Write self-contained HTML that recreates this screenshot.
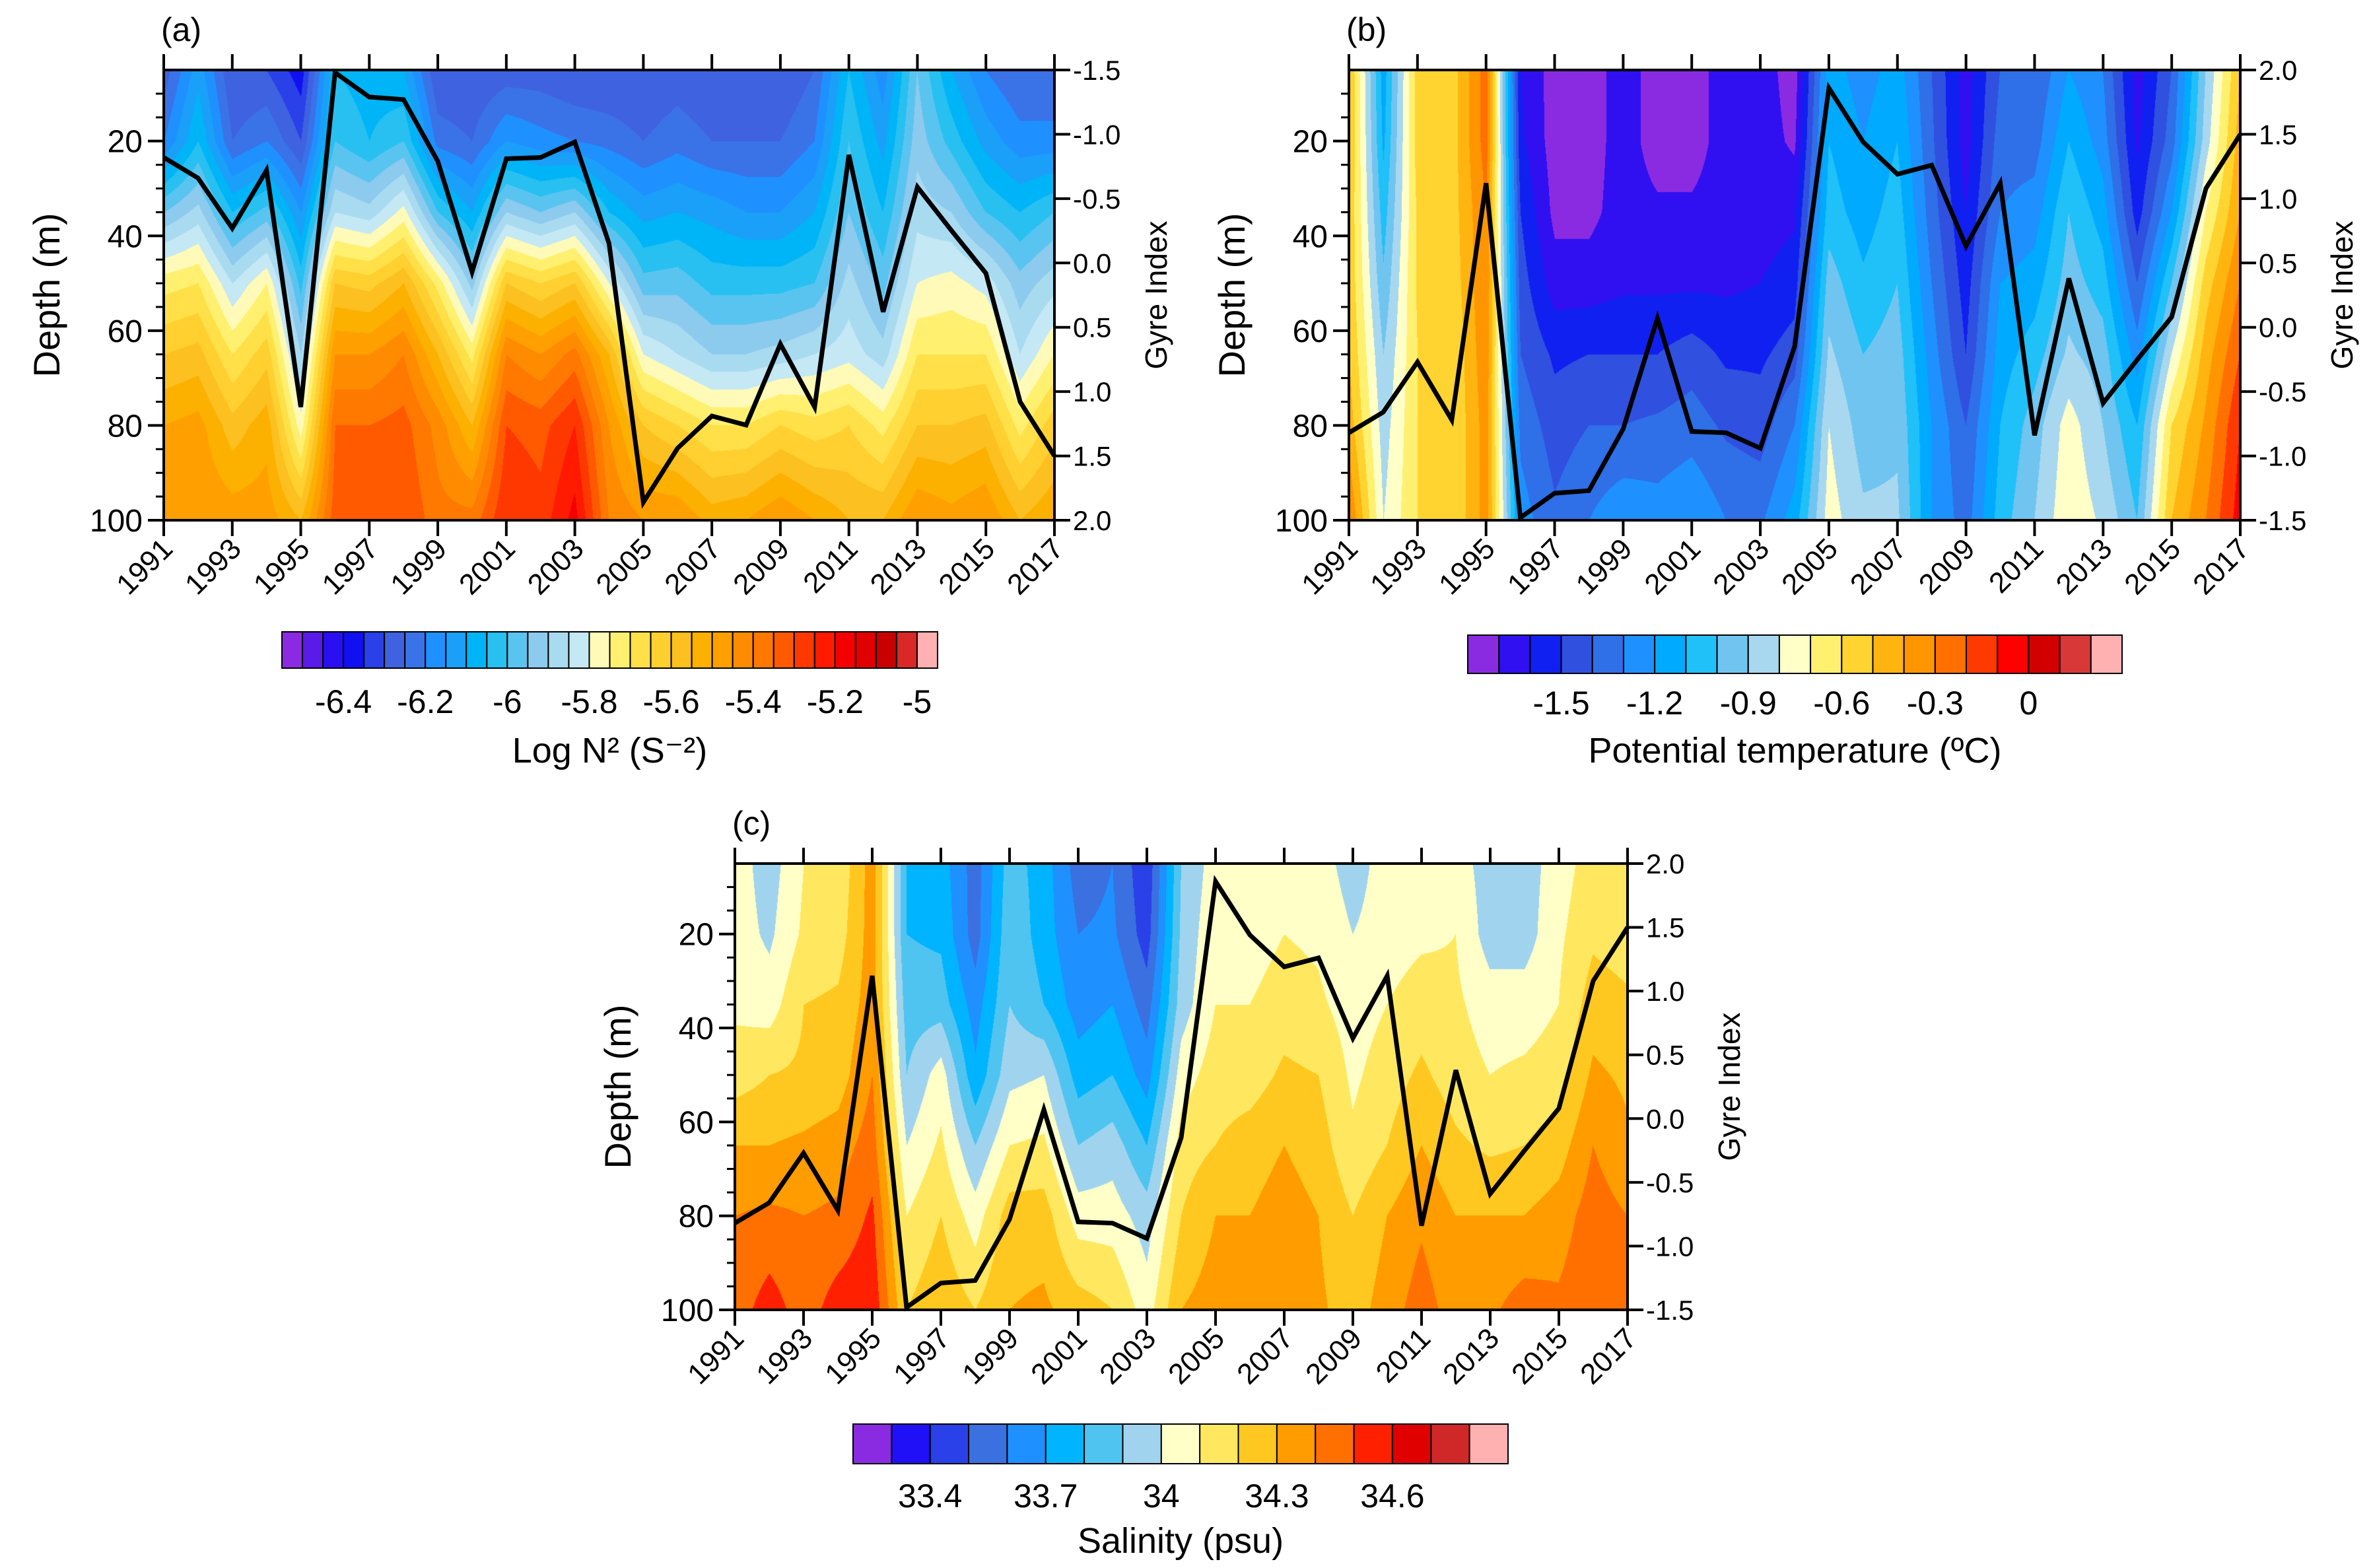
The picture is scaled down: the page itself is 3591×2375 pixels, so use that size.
<!DOCTYPE html>
<html><head><meta charset="utf-8"><style>
body{margin:0;background:#fff;width:3591px;height:2375px;position:relative;overflow:hidden;font-family:"Liberation Sans",sans-serif}
canvas{position:absolute}
svg{position:absolute;left:0;top:0}
</style></head><body>
<canvas id="ca"></canvas>
<canvas id="cb"></canvas>
<canvas id="cc"></canvas>
<svg id="s" width="3591" height="2375"></svg>
<script>
const years=[];for(let y=1991;y<=2017;y++)years.push(y);
const depths=[5,20,35,50,65,80,100];
const gyre=[-0.82,-0.66,-0.27,-0.72,1.12,-1.48,-1.29,-1.27,-0.79,0.07,-0.81,-0.82,-0.94,-0.15,1.86,1.44,1.19,1.26,0.63,1.12,-0.84,0.38,-0.59,-0.25,0.08,1.08,1.50];
const n2=[
[-6.28,-6.2,-5.95,-5.72,-5.6,-5.5,-5.45],[-6.12,-6.05,-5.88,-5.7,-5.58,-5.48,-5.45],[-6.3,-6.25,-6.05,-5.85,-5.7,-5.58,-5.47],[-6.3,-6.2,-5.98,-5.75,-5.62,-5.52,-5.47],[-6.38,-6.3,-6.15,-6.02,-5.9,-5.78,-5.55],[-6.05,-6.0,-5.85,-5.6,-5.45,-5.35,-5.32],[-6.08,-6.05,-5.88,-5.62,-5.45,-5.35,-5.33],[-6.1,-6.0,-5.78,-5.55,-5.4,-5.33,-5.3],[-6.3,-6.22,-6.0,-5.72,-5.55,-5.42,-5.38],[-6.3,-6.25,-6.1,-5.92,-5.72,-5.55,-5.38],[-6.28,-6.15,-5.9,-5.6,-5.4,-5.3,-5.25],[-6.28,-6.18,-5.95,-5.65,-5.45,-5.32,-5.28],[-6.3,-6.2,-5.9,-5.6,-5.38,-5.25,-5.18],[-6.3,-6.22,-6.05,-5.8,-5.55,-5.45,-5.4],[-6.3,-6.25,-6.12,-5.98,-5.8,-5.6,-5.45],[-6.28,-6.22,-6.1,-5.97,-5.85,-5.65,-5.45],[-6.3,-6.25,-6.12,-6.02,-5.9,-5.7,-5.52],[-6.3,-6.25,-6.15,-6.02,-5.9,-5.7,-5.5],[-6.3,-6.25,-6.15,-6.02,-5.88,-5.65,-5.45],[-6.25,-6.2,-6.1,-6.0,-5.85,-5.68,-5.5],[-6.05,-6.0,-5.95,-5.88,-5.82,-5.65,-5.55],[-6.18,-6.12,-6.05,-5.97,-5.88,-5.72,-5.55],[-5.95,-5.92,-5.87,-5.8,-5.7,-5.6,-5.45],[-6.1,-6.02,-5.9,-5.78,-5.7,-5.6,-5.48],[-6.2,-6.12,-6.0,-5.82,-5.7,-5.58,-5.45],[-6.25,-6.18,-6.05,-5.93,-5.85,-5.72,-5.55],[-6.25,-6.18,-6.0,-5.87,-5.75,-5.62,-5.5]];
const temp=[
[-0.5,-0.5,-0.52,-0.52,-0.5,-0.45,-0.3],[-1.15,-1.12,-1.05,-0.98,-0.9,-0.85,-0.8],[-0.55,-0.55,-0.58,-0.58,-0.6,-0.6,-0.6],[-0.55,-0.55,-0.55,-0.57,-0.6,-0.6,-0.6],[-0.25,-0.25,-0.3,-0.3,-0.32,-0.35,-0.35],
[-1.6,-1.58,-1.5,-1.45,-1.4,-1.33,-1.25],
[-1.75,-1.75,-1.73,-1.65,-1.52,-1.45,-1.38],
[-1.75,-1.75,-1.73,-1.65,-1.5,-1.4,-1.3],
[-1.65,-1.65,-1.65,-1.62,-1.5,-1.4,-1.22],
[-1.75,-1.75,-1.68,-1.62,-1.5,-1.38,-1.25],
[-1.75,-1.75,-1.68,-1.62,-1.45,-1.35,-1.2],
[-1.65,-1.65,-1.65,-1.62,-1.52,-1.42,-1.3],
[-1.65,-1.65,-1.65,-1.6,-1.52,-1.45,-1.32],
[-1.75,-1.72,-1.62,-1.55,-1.45,-1.3,-1.15],
[-1.15,-1.1,-1.05,-0.95,-0.88,-0.8,-0.75],[-1.25,-1.2,-1.15,-1.08,-1.0,-0.95,-0.88],[-1.15,-1.1,-1.05,-1.0,-0.95,-0.92,-0.88],[-1.4,-1.38,-1.35,-1.3,-1.25,-1.2,-1.2],[-1.65,-1.65,-1.6,-1.55,-1.5,-1.4,-1.35],[-1.4,-1.35,-1.3,-1.2,-1.15,-1.1,-1.05],[-1.4,-1.35,-1.25,-1.15,-1.05,-0.95,-0.9],[-1.2,-1.1,-1.0,-0.95,-0.88,-0.75,-0.72],[-1.3,-1.25,-1.15,-1.05,-0.95,-0.9,-0.82],[-1.65,-1.62,-1.55,-1.4,-1.25,-1.1,-1.0],[-1.4,-1.35,-1.2,-1.0,-0.8,-0.6,-0.5],[-0.9,-0.85,-0.7,-0.55,-0.45,-0.38,-0.3],[-0.5,-0.45,-0.4,-0.3,-0.2,-0.1,-0.05]];
const sal=[
[34.05,34.05,34.08,34.15,34.3,34.4,34.45],[33.95,33.98,34.05,34.2,34.3,34.42,34.55],[34.1,34.12,34.2,34.22,34.32,34.4,34.45],[34.12,34.15,34.22,34.25,34.35,34.42,34.55],[34.35,34.35,34.35,34.4,34.45,34.52,34.58],[33.8,33.8,33.85,33.9,34.0,34.1,34.2],[33.75,33.78,33.85,34.05,34.12,34.2,34.28],[33.55,33.55,33.65,33.72,33.9,34.05,34.2],[33.85,33.88,33.9,33.97,34.1,34.25,34.3],[33.75,33.75,33.8,34.0,34.12,34.25,34.32],[33.55,33.6,33.65,33.75,33.9,34.05,34.25],[33.6,33.62,33.7,33.8,33.95,34.05,34.2],[33.42,33.45,33.55,33.65,33.8,33.95,34.05],[33.9,33.92,33.95,34.05,34.15,34.2,34.3],[34.05,34.08,34.1,34.15,34.2,34.3,34.35],[34.0,34.05,34.1,34.15,34.25,34.3,34.35],[34.05,34.1,34.15,34.22,34.3,34.35,34.38],[34.05,34.08,34.12,34.2,34.25,34.3,34.32],[33.95,34.0,34.05,34.08,34.12,34.2,34.25],[34.05,34.05,34.1,34.15,34.2,34.3,34.35],[34.05,34.08,34.15,34.22,34.3,34.38,34.45],[34.05,34.1,34.12,34.15,34.22,34.3,34.35],[33.95,33.95,34.05,34.1,34.18,34.3,34.38],[33.95,33.95,34.05,34.12,34.2,34.3,34.45],[34.05,34.08,34.1,34.15,34.25,34.35,34.42],[34.15,34.18,34.25,34.32,34.4,34.45,34.48],[34.15,34.15,34.22,34.28,34.32,34.4,34.45]];
const colA=['#8a2be2','#5a1ae8','#2a10f0','#1010f0','#2a40e8','#3f62e0','#3a72e8','#1e90ff','#1aa0f8','#00b4f8','#28c0f0','#5ac4f0','#8ccaee','#a8daf0','#c4e8f4','#fffab8','#fff070','#ffe048','#ffd030','#fcc020','#fcb000','#ffa000','#ff8c00','#ff7800','#ff5a00','#ff3800','#ff1a00','#f40000','#e00000','#c80000','#d82828','#ffb0b0'];
const colB=['#8a2be2','#3010f0','#1020f0','#3050e0','#2f6fe8','#1e90ff','#00aaff','#20c0f8','#70c4f0','#a8d8f0','#ffffc8','#fff070','#ffd430','#ffb410','#ff9600','#ff7000','#ff3a00','#ff0000','#d20000','#d83838','#ffb0b0'];
const colC=['#8a2be2','#2010f8','#2a40e8','#3a70e0','#1e90ff','#00b4ff','#50c4f0','#a0d4ee','#ffffc8','#ffe860','#ffc820','#ff9c00','#ff7000','#ff2000','#e00000','#d02828','#ffb0b0'];
const gyreTicksA=[-1.5,-1.0,-0.5,0.0,0.5,1.0,1.5,2.0];
const depthTicks=[20,40,60,80,100];
const labA=[-6.4,-6.2,-6,-5.8,-5.6,-5.4,-5.2,-5];
const labB=[-1.5,-1.2,-0.9,-0.6,-0.3,0];
const labC=[33.4,33.7,34,34.3,34.6];

const NS='http://www.w3.org/2000/svg';const S=document.getElementById('s');
function el(t,a,txt){const e=document.createElementNS(NS,t);for(const k in a)e.setAttribute(k,a[k]);if(txt!==undefined)e.textContent=txt;S.appendChild(e);return e;}
function hex(c){return [parseInt(c.substr(1,2),16),parseInt(c.substr(3,2),16),parseInt(c.substr(5,2),16)];}

function panel(id,P,field,cols,v0,dv,inv,label,name){
  const {L,R,T,B}=P;const W=R-L,H=B-T;
  const cv=document.getElementById(id);cv.width=W;cv.height=H;cv.style.left=L+'px';cv.style.top=T+'px';
  const ctx=cv.getContext('2d');const img=ctx.createImageData(W,H);const rgb=cols.map(hex);
  for(let py=0;py<H;py++){
    const d=5+95*py/(H-1);let j=0;while(j<depths.length-2&&d>depths[j+1])j++;
    const fy=(d-depths[j])/(depths[j+1]-depths[j]);
    for(let px=0;px<W;px++){
      const fx=26*px/(W-1);let i=Math.min(25,Math.floor(fx));const tx=fx-i;
      const a=field[i][j]*(1-fy)+field[i][j+1]*fy,b=field[i+1][j]*(1-fy)+field[i+1][j+1]*fy;
      const v=a*(1-tx)+b*tx;let k=Math.floor((v-v0)/dv+1e-9);k=Math.max(0,Math.min(cols.length-1,k));
      const o=(py*W+px)*4;const c=rgb[k];img.data[o]=c[0];img.data[o+1]=c[1];img.data[o+2]=c[2];img.data[o+3]=255;}
  }
  ctx.putImageData(img,0,0);
  const xs=y=>L+(y-1991)/26*W, ys=d=>T+(d-5)/95*H;
  const gy=g=>inv?T+(g+1.5)/3.5*H:T+(2-g)/3.5*H;
  el('rect',{x:L,y:T,width:W,height:H,fill:'none',stroke:'#000','stroke-width':4,});
  for(let y=1991;y<=2017;y+=2){
    el('line',{x1:xs(y),x2:xs(y),y1:T,y2:T-24,stroke:'#000','stroke-width':4,});
    el('line',{x1:xs(y),x2:xs(y),y1:B,y2:B+24,stroke:'#000','stroke-width':4,});
    el('text',{x:xs(y)+16,y:B+46,'text-anchor':'end','font-size':44,transform:`rotate(-45 ${xs(y)+16} ${B+46})`,},String(y));
  }
  for(let d=10;d<=95;d+=5){if(d%20)el('line',{x1:L,x2:L-12,y1:ys(d),y2:ys(d),stroke:'#000','stroke-width':3,});}
  depthTicks.forEach(d=>{el('line',{x1:L,x2:L-24,y1:ys(d),y2:ys(d),stroke:'#000','stroke-width':4,});
    el('text',{x:L-32,y:ys(d)+17,'text-anchor':'end','font-size':48,},String(d));});
  gyreTicksA.forEach(g=>{el('line',{x1:R,x2:R+24,y1:gy(g),y2:gy(g),stroke:'#000','stroke-width':4,});
    el('text',{x:R+28,y:gy(g)+15,'font-size':42,},g.toFixed(1));});
  const pts=gyre.map((g,i)=>xs(years[i])+','+gy(g)).join(' ');
  el('polyline',{points:pts,fill:'none',stroke:'#000','stroke-width':7,'stroke-linejoin':'miter',});
  el('text',{x:L-4,y:T-44,'font-size':50,},label);
  const cy=(T+B)/2;
  el('text',{x:L-158,y:cy,'text-anchor':'middle','font-size':56,transform:`rotate(-90 ${L-158} ${cy})`,},'Depth (m)');
  el('text',{x:R+170,y:cy,'text-anchor':'middle','font-size':46,transform:`rotate(-90 ${R+170} ${cy})`,},'Gyre Index');
}
function cbar(x0,x1,y0,y1,cols,labs,v0,dv,ly,title,ty,name){
  const w=(x1-x0)/cols.length;
  cols.forEach((c,i)=>el('rect',{x:x0+i*w,y:y0,width:w,height:y1-y0,fill:c,stroke:'#000','stroke-width':2,}));
  labs.forEach(v=>el('text',{x:x0+(v-v0)/dv*w,y:ly,'text-anchor':'middle','font-size':50,},String(v)));
  el('text',{x:(x0+x1)/2,y:ty,'text-anchor':'middle','font-size':54,},title);
}
panel('ca',{L:248,R:1597,T:106,B:788},n2,colA,-6.55,0.05,true,'(a)','panel-a');
panel('cb',{L:2043,R:3393,T:106,B:788},temp,colB,-1.8,0.1,false,'(b)','panel-b');
panel('cc',{L:1113,R:2465,T:1308,B:1984},sal,colC,33.2,0.1,false,'(c)','panel-c');
cbar(427,1420,957,1012,colA,labA,-6.55,0.05,1080,'Log N² (S⁻²)',1155,'colorbar-a');
cbar(2223,3214,962,1020,colB,labB,-1.8,0.1,1082,'Potential temperature (ºC)',1155,'colorbar-b');
cbar(1292,2284,2157,2217,colC,labC,33.2,0.1,2283,'Salinity (psu)',2352,'colorbar-c');
</script>
</body></html>
